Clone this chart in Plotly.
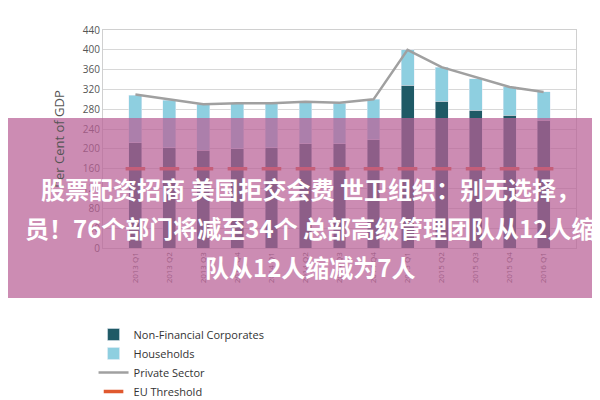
import plotly.graph_objects as go

quarters = ["2013 Q1", "2013 Q2", "2013 Q3", "2013 Q4", "2014 Q1", "2014 Q2", "2014 Q3",
            "2014 Q4", "2015 Q1", "2015 Q2", "2015 Q3", "2015 Q4", "2016 Q1"]
non_financial = [212, 202, 197, 200, 202, 210, 210, 218, 328, 296, 278, 268, 258]
households = [96, 96, 93, 92, 90, 84, 82, 82, 72, 69, 64, 57, 57]
private_sector = [310, 300, 290, 292, 292, 295, 293, 300, 400, 365, 345, 325, 315]
eu_threshold = [160] * 13

W, H = 600, 400
L, R, T, B = 95, 32, 22, 160
PH = H - T - B


def py(pix):
    # pixel row from top -> paper y
    return (H - B - pix) / PH


fig = go.Figure()
fig.add_trace(go.Bar(x=quarters, y=non_financial, name="Non-Financial Corporates",
                     marker_color="#1f5a66"))
fig.add_trace(go.Bar(x=quarters, y=households, name="Households", marker_color="#8ecfe0"))
fig.add_trace(go.Scatter(x=quarters, y=private_sector, name="Private Sector", mode="lines",
                         line=dict(color="#a0a0a0", width=2.5)))
fig.add_trace(go.Scatter(x=quarters, y=eu_threshold, name="EU Threshold", mode="markers",
                         marker=dict(symbol="line-ew", size=14, line=dict(color="#e0592f", width=3.5))))

# pink banner over the chart
fig.add_shape(type="rect", xref="paper", yref="paper",
              x0=-L / (W - L - R), x1=1 + R / (W - L - R),
              y0=py(290), y1=py(110),
              fillcolor="rgba(185,95,150,0.72)", line_width=0, layer="above")

lines = [("股票配资招商 美国拒交会费 世卫组织：别无选择，", 200),
         ("员！76个部门将减至34个 总部高级管理团队从12人缩", 239),
         ("队从12人缩减为7人", 278)]
for txt, yp in lines:
    fig.add_annotation(text="<b>" + txt + "</b>", xref="paper", yref="paper",
                       x=(302 - L) / (W - L - R), y=py(yp),
                       showarrow=False, font=dict(size=24, color="white", family="Noto Sans CJK SC"))

fig.update_layout(
    width=W, height=H, margin=dict(l=L, r=R, t=T, b=B, autoexpand=False),
    paper_bgcolor="white", plot_bgcolor="white",
    barmode="stack", bargap=0.62,
    font=dict(family="Open Sans", size=10, color="#555"),
    legend=dict(orientation="h", x=-0.02, y=py(312), xanchor="left", yanchor="top",
                traceorder="normal", entrywidth=250,
                font=dict(size=11, color="#333")),
    yaxis=dict(range=[0, 440], dtick=40, gridcolor="#d8d8d8", linecolor="#d0d0d0", automargin=False,
               mirror=True, showline=True, title=dict(text="Per Cent of GDP", font=dict(size=13))),
    xaxis=dict(tickangle=-90, tickfont=dict(size=8), linecolor="#d0d0d0", automargin=False,
               mirror=True, showline=True),
)

fig.write_html("out.html")
